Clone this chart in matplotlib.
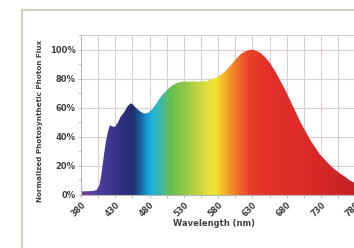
import numpy as np
import matplotlib
matplotlib.use("Agg")
import matplotlib.pyplot as plt
from matplotlib.colors import LinearSegmentedColormap
from matplotlib.patches import Rectangle, Polygon
from matplotlib.ticker import FixedLocator, MultipleLocator, PercentFormatter

# spectrum (nm, normalized photon flux)
wavelength = [380, 390, 398, 403, 407, 410, 413, 416, 419, 422, 426, 430, 434, 438,
              443, 448, 452, 455, 460, 466, 472, 478, 484, 490, 497, 505, 512, 520,
              528, 535, 545, 555, 565, 573, 582, 590, 598, 605, 612, 618, 624, 630,
              636, 642, 648, 655, 662, 670, 678, 686, 694, 700, 707, 714, 721, 728,
              736, 743, 750, 757, 765, 772, 780, 790, 800]
flux = [0.025, 0.026, 0.028, 0.035, 0.07, 0.15, 0.26, 0.36, 0.43, 0.48, 0.47, 0.47,
        0.50, 0.54, 0.57, 0.61, 0.63, 0.625, 0.60, 0.575, 0.56, 0.565, 0.59, 0.63,
        0.68, 0.72, 0.75, 0.77, 0.78, 0.78, 0.78, 0.78, 0.785, 0.80, 0.82, 0.85,
        0.89, 0.93, 0.965, 0.985, 0.995, 1.0, 0.99, 0.975, 0.95, 0.91, 0.86, 0.79,
        0.72, 0.64, 0.56, 0.50, 0.44, 0.38, 0.33, 0.28, 0.24, 0.205, 0.175, 0.15,
        0.125, 0.10, 0.08, 0.06, 0.045]

# colour of the fill at each wavelength
stop_nm = [380, 410, 430, 445, 455, 465, 475, 482, 495, 510, 530, 550, 565, 575,
           585, 598, 610, 625, 650, 700, 800]
stop_col = ["#7040a0", "#4c3a98", "#36358a", "#2a2e7c", "#20306e", "#1a5a9a",
            "#1a9ad0", "#20b4e0", "#3cb8a8", "#64bf50", "#90c848", "#c0d440",
            "#e4e03a", "#f2e632", "#f5c02c", "#f39028", "#ee6a28", "#e8402a",
            "#e5302a", "#de2c28", "#c01e24"]

xticks = list(range(380, 801, 50))
xminor = list(range(405, 801, 50))

xmin, xmax = 380, 800
ymax = 1.1

fig = plt.figure(figsize=(3.54, 2.48), dpi=100)
fig.patch.set_facecolor("white")
ax = fig.add_axes([81 / 354, 53 / 248, (xmax - xmin) * 0.686 / 354, 160 / 248])

cmap = LinearSegmentedColormap.from_list(
    "spec", [((n - xmin) / (xmax - xmin), c) for n, c in zip(stop_nm, stop_col)])
grad = np.linspace(0, 1, 600).reshape(1, -1)
img = ax.imshow(grad, cmap=cmap, aspect="auto", extent=(xmin, xmax, 0, ymax),
                origin="lower", zorder=2, interpolation="bilinear")
poly = Polygon(list(zip(wavelength, flux)) + [(wavelength[-1], 0), (wavelength[0], 0)],
               closed=True, facecolor="none", edgecolor="none", transform=ax.transData)
ax.add_patch(poly)
img.set_clip_path(poly)

ax.set_xlim(xmin, xmax)
ax.set_ylim(0, ymax)
ax.xaxis.set_major_locator(FixedLocator(xticks))
ax.xaxis.set_minor_locator(FixedLocator(xminor))
ax.yaxis.set_major_locator(MultipleLocator(0.2))
ax.yaxis.set_minor_locator(MultipleLocator(0.1))
ax.yaxis.set_major_formatter(PercentFormatter(1.0, decimals=0))
ax.grid(which="major", color="#dccfcf", lw=0.8, zorder=0)
ax.grid(which="minor", axis="x", color="#dccfcf", lw=0.8, zorder=0)
ax.set_axisbelow(True)

for s in ["top", "right"]:
    ax.spines[s].set_color("#dccfcf")
    ax.spines[s].set_linewidth(0.8)
for s in ["left", "bottom"]:
    ax.spines[s].set_color("#b8b8b8")
    ax.spines[s].set_linewidth(0.8)

ax.tick_params(which="both", length=2, width=0.6, color="#b8b8b8", pad=2)
ax.tick_params(axis="x", which="major", labelsize=5.8, labelcolor="#404040")
ax.tick_params(axis="y", which="major", labelsize=6, labelcolor="#404040")
for lab in ax.get_xticklabels():
    lab.set_fontweight("bold")
    lab.set_rotation(45)
    lab.set_ha("right")
    lab.set_rotation_mode("anchor")
for lab in ax.get_yticklabels():
    lab.set_fontweight("bold")

fig.text(40 / 354, 1 - 121 / 248, "Normalized Photosynthetic Photon Flux",
         rotation=90, ha="center", va="center", fontsize=5.2, fontweight="bold",
         color="#404040", family=["Liberation Sans Narrow", "DejaVu Sans"])
fig.text(214 / 354, 1 - 224 / 248, "Wavelength (nm)", ha="center", va="center",
         fontsize=6, fontweight="bold", color="#404040")

# outer frame of the figure
fig.patches.append(Rectangle((22 / 354, -0.1), 1.2, 1 - 10 / 248 + 0.1,
                             transform=fig.transFigure, fill=False,
                             edgecolor="#d3d1c3", lw=1.6))

fig.savefig("out.png", dpi=100, facecolor="white")
